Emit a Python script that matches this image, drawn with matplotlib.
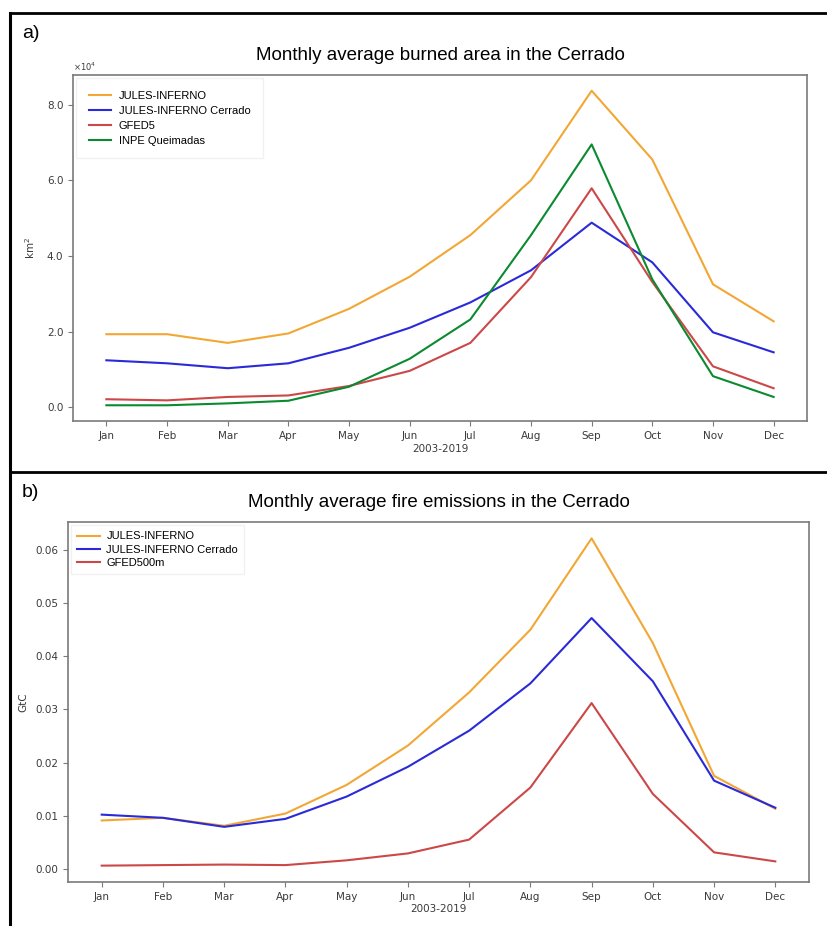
import numpy as np
import matplotlib
matplotlib.use('Agg')
from matplotlib import pyplot as plt
from matplotlib.lines import Line2D
from matplotlib.ticker import ScalarFormatter, MultipleLocator

months = ['Jan', 'Feb', 'Mar', 'Apr', 'May', 'Jun',
          'Jul', 'Aug', 'Sep', 'Oct', 'Nov', 'Dec']

# burned area, units of 1e4 km2
area_jules = [1.93, 1.93, 1.70, 1.95, 2.60, 3.45, 4.55, 6.00, 8.37, 6.55, 3.25, 2.27]
area_jules_cerrado = [1.24, 1.16, 1.03, 1.16, 1.57, 2.10, 2.77, 3.62, 4.88, 3.83, 1.98, 1.45]
area_gfed5 = [0.21, 0.18, 0.27, 0.31, 0.56, 0.96, 1.70, 3.44, 5.79, 3.31, 1.08, 0.50]
area_inpe = [0.05, 0.05, 0.10, 0.17, 0.54, 1.28, 2.32, 4.55, 6.95, 3.38, 0.82, 0.27]

# fire emissions, GtC
emis_jules = [0.0091, 0.0096, 0.0081, 0.0104, 0.0158, 0.0232, 0.0332, 0.0450, 0.0622, 0.0425, 0.0175, 0.0113]
emis_jules_cerrado = [0.0102, 0.0096, 0.0079, 0.0094, 0.0136, 0.0192, 0.0260, 0.0349, 0.0472, 0.0353, 0.0166, 0.0115]
emis_gfed = [0.0006, 0.0007, 0.0008, 0.0007, 0.0016, 0.0029, 0.0055, 0.0153, 0.0312, 0.0141, 0.0031, 0.0014]

C_ORANGE = '#f2a735'
C_BLUE = '#2a2ad8'
C_RED = '#cc4848'
C_GREEN = '#0b8a30'


class OneDecimal(ScalarFormatter):
    def _set_format(self):
        self.format = '%1.1f'


def style_axes(ax):
    for s in ax.spines.values():
        s.set_color('#7a7a7a')
        s.set_linewidth(1.2)
    ax.tick_params(labelsize=7.5, colors='#7a7a7a', labelcolor='#3a3a3a')
    ax.set_xticks(range(len(months)))
    ax.set_xticklabels(months)
    ax.set_xlabel('2003-2019', fontsize=7.5, color='#3a3a3a', labelpad=2)


fig = plt.figure(figsize=(8.28, 9.26), dpi=100)
W, H = 828.0, 926.0

# panel a
ax1 = fig.add_axes([73 / W, 1 - 421 / H, 734 / W, 346 / H])
x = np.arange(len(months))
ax1.plot(x, np.array(area_jules) * 1e4, color=C_ORANGE, lw=1.5, label='JULES-INFERNO')
ax1.plot(x, np.array(area_jules_cerrado) * 1e4, color=C_BLUE, lw=1.5, label='JULES-INFERNO Cerrado')
ax1.plot(x, np.array(area_gfed5) * 1e4, color=C_RED, lw=1.5, label='GFED5')
ax1.plot(x, np.array(area_inpe) * 1e4, color=C_GREEN, lw=1.5, label='INPE Queimadas')
style_axes(ax1)
ax1.yaxis.set_major_locator(MultipleLocator(2e4))
fmt = OneDecimal(useMathText=True)
fmt.set_powerlimits((0, 0))
ax1.yaxis.set_major_formatter(fmt)
ax1.yaxis.get_offset_text().set_fontsize(6)
ax1.yaxis.get_offset_text().set_color('#3a3a3a')
ax1.set_ylabel('km$^2$', fontsize=7.5, color='#3a3a3a')
ax1.yaxis.set_label_coords(-0.049, 0.5)
ax1.set_title('Monthly average burned area in the Cerrado', fontsize=13.5,
              family='Liberation Sans', pad=11)
leg = ax1.legend(loc='upper left', prop={'family': 'Liberation Sans', 'size': 8},
                 fancybox=False, edgecolor='#eeeeee', borderpad=1.1,
                 labelspacing=0.45, handletextpad=0.7, borderaxespad=0.3)
leg.get_frame().set_linewidth(1.0)

# panel b
ax2 = fig.add_axes([68 / W, 1 - 882 / H, 741 / W, 360 / H])
ax2.plot(x, emis_jules, color=C_ORANGE, lw=1.5, label='JULES-INFERNO')
ax2.plot(x, emis_jules_cerrado, color=C_BLUE, lw=1.5, label='JULES-INFERNO Cerrado')
ax2.plot(x, emis_gfed, color=C_RED, lw=1.5, label='GFED500m')
style_axes(ax2)
ax2.yaxis.set_major_locator(MultipleLocator(0.01))
ax2.yaxis.set_major_formatter(plt.FormatStrFormatter('%.2f'))
ax2.set_ylabel('GtC', fontsize=7.5, color='#3a3a3a')
ax2.yaxis.set_label_coords(-0.054, 0.5)
ax2.set_title('Monthly average fire emissions in the Cerrado', fontsize=13.5,
              family='Liberation Sans', pad=11)
leg = ax2.legend(loc='upper left', prop={'family': 'Liberation Sans', 'size': 8},
                 fancybox=False, edgecolor='#eeeeee', borderpad=0.55,
                 labelspacing=0.3, handletextpad=0.6, borderaxespad=0.3)
leg.get_frame().set_linewidth(1.0)

# panel labels and frame lines
fig.text(22 / W, 1 - 33 / H, 'a)', fontsize=14, family='Liberation Sans', va='center')
fig.text(22 / W, 1 - 493 / H, 'b)', fontsize=14, family='Liberation Sans', va='center')
fig.add_artist(Line2D([10 / W, 1], [1 - 13 / H, 1 - 13 / H], color='black', lw=2))
fig.add_artist(Line2D([10 / W, 1], [1 - 472 / H, 1 - 472 / H], color='black', lw=2))
fig.add_artist(Line2D([10 / W, 10 / W], [0, 1 - 13 / H], color='black', lw=2.2))

fig.savefig('out.png', dpi=100)
